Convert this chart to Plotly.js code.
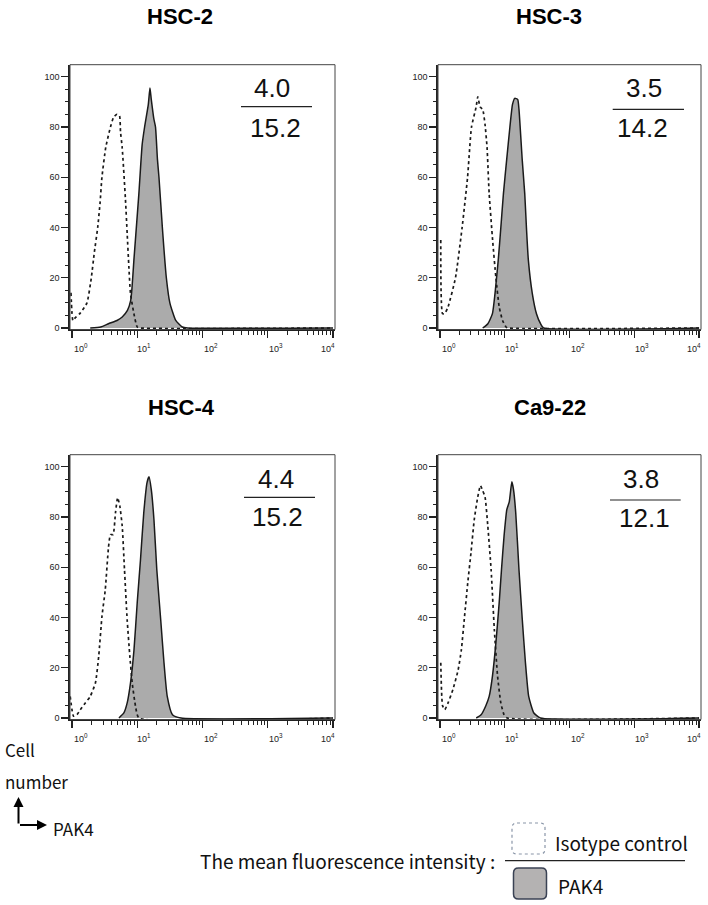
<!DOCTYPE html>
<html><head><meta charset="utf-8">
<script src="https://cdn.plot.ly/plotly-3.0.1.min.js"></script>
<style>html,body{margin:0;padding:0;background:#fff}#chart{width:708px;height:905px}</style>
</head><body><div id="chart"></div>
<script>
// ---------- data ----------
const cellLines = ['HSC-2', 'HSC-3', 'HSC-4', 'Ca9-22'];
const mfiIsotype = [4.0, 3.5, 4.4, 3.8];
const mfiPAK4 = [15.2, 14.2, 15.2, 12.1];
const xTickVals = [1, 10, 100, 1000, 10000];
const xTickText = ['10<sup>0</sup>', '10<sup>1</sup>', '10<sup>2</sup>', '10<sup>3</sup>', '10<sup>4</sup>'];
const xMinorVals = [2,3,4,5,6,7,8,9,20,30,40,50,60,70,80,90,200,300,400,500,600,700,800,900,2000,3000,4000,5000,6000,7000,8000,9000];
const yTickVals = [0, 20, 40, 60, 80, 100];

// HSC-2
const isoX_HSC2 = [0.966,1.035,1.12,1.349,1.698,1.98,2.2,2.48,2.7,2.88,3.3,3.89,4.365,4.898,5.346,5.546,5.875,6.607,7.015,7.447,7.889,8.892,10,11.22,10000];
const isoY_HSC2 = [14,3,4,6,10,20,30,40,50,60,72,80,84,85,84.5,78,72,51,37.6,24.3,13.7,5.7,0.4,0,0];
const pakX_HSC2 = [1.905,2.754,3.631,4.898,5.888,7.079,7.943,8.318,8.89,10.6,11.9,12.97,14.79,15.67,16.41,18.03,19.05,20.42,21.53,24.27,27.93,31.62,38.9,48.98,58.88,10000];
const pakY_HSC2 = [0,0.4,1.7,3,4.4,7,11,16,27,53.5,73,80,89,95.5,91,83,80,67,60,40,20,10,3,0.4,0,0];

// HSC-3
const isoX_HSC3 = [1.03,1.096,1.186,1.334,1.738,2.2,2.67,3.07,3.622,3.837,4.169,4.571,4.966,5.333,5.754,6.501,7.311,8.222,9.247,10.47,11.22,10000];
const isoY_HSC3 = [35,5.7,5.7,8.4,20,40,60,80,88,92,88,87,81,72,53.5,35,20,8.4,3,0.4,0,0];
const pakX_HSC3 = [4.571,5.495,6.457,7.079,7.943,8.71,9.55,10.72,12.02,13.18,14.29,15.85,16.6,18.62,20.37,21.63,23.17,26.67,30.9,35.73,39.81,10000];
const pakY_HSC3 = [0,1.7,5.7,13.7,27,40,53.5,67,80,89,91.4,91,87,67,53.5,40,27,13.7,5.7,1.7,0,0];

// HSC-4
const isoX_HSC4 = [0.94,1.06,1.194,1.343,1.603,1.905,2.291,2.57,2.884,3.236,3.631,3.89,4.266,4.645,5.012,5.408,5.888,6.383,7.015,7.709,8.375,9.419,10.62,10000];
const isoY_HSC4 = [8.6,0.7,1.3,3.3,6,8.6,14,24.6,40.5,51,68,73,73,81.7,87.7,84.4,76.4,59,39,24.6,14,4.7,0,0];
const pakX_HSC4 = [5.248,6.237,7.015,7.889,8.913,10,11.22,12.59,14.13,15.14,16.41,18.03,19.95,22.91,25.7,28.84,34.67,46.77,10000];
const pakY_HSC4 = [0,2,6,14,27,46,63,81.7,93.7,96,91,79,59,39,22,8.6,1.3,0,0];

// Ca9-22
const isoX_Ca922 = [1.03,1.096,1.186,1.334,1.585,1.905,2.138,2.399,2.692,3.02,3.388,3.837,4.217,4.571,4.966,5.458,6.166,6.918,7.762,8.71,9.772,10.96,10000];
const isoY_Ca922 = [22,5,3.3,6,11.3,19,27,40.5,54,66,79,88,92.5,90.5,88,77,59,35,16.6,6,1.3,0,0];
const pakX_Ca922 = [3.631,4.315,5.129,5.754,6.457,7.311,8.222,8.913,9.772,10.79,11.75,12.88,13.65,14.79,16.6,18.62,20.89,23.44,28.18,35.48,10000];
const pakY_Ca922 = [0,1.3,5,8.6,16.6,30,46,59,72.5,83,86,94,91,81.7,59,39.6,22,8.6,2,0,0];

// ---------- build ----------
const W = 708, H = 905;
const px = v => v / W;
const py = v => 1 - v / H;

const isoXs = [isoX_HSC2, isoX_HSC3, isoX_HSC4, isoX_Ca922];
const isoYs = [isoY_HSC2, isoY_HSC3, isoY_HSC4, isoY_Ca922];
const pakXs = [pakX_HSC2, pakX_HSC3, pakX_HSC4, pakX_Ca922];
const pakYs = [pakY_HSC2, pakY_HSC3, pakY_HSC4, pakY_Ca922];

// panel geometry (pixels)
const colX = [[70, 335], [438, 701]];
const rowY = [[64.7, 329.5], [454.7, 719.5]];
const xLabelY = [348, 738];
const xLabelShift = [9, 7, 8, 8, -5];
const titlePos = [[180, 17], [549, 17], [181, 407], [550, 407]];
const isoTextPos = [[272, 88], [644, 88], [276, 479], [641, 479]];
const pakTextPos = [[275, 128.3], [642.5, 128.3], [277, 517], [644, 517.5]];
const fracLine = [[241, 312, 106.7], [612.7, 684, 109.3], [244, 315, 497.3], [610, 680.7, 500]];

const baseFont = 'Liberation Sans, Arial, sans-serif';
const traces = [];
const layout = {
  width: W, height: H,
  margin: {l: 0, r: 0, t: 0, b: 0},
  paper_bgcolor: '#fff', plot_bgcolor: '#fff',
  showlegend: false,
  font: {family: baseFont, color: '#222'},
  annotations: [], shapes: []
};

for (let i = 0; i < 4; i++) {
  const s = i === 0 ? '' : String(i + 1);
  const col = i % 2, row = Math.floor(i / 2);
  traces.push({
    x: pakXs[i], y: pakYs[i], xaxis: 'x' + s, yaxis: 'y' + s,
    type: 'scatter', mode: 'lines', fill: 'tozeroy', fillcolor: '#ababab',
    line: {color: '#1a1a1a', width: 1.5, shape: 'spline', smoothing: 0.5},
    hoverinfo: 'skip'
  });
  traces.push({
    x: isoXs[i], y: isoYs[i], xaxis: 'x' + s, yaxis: 'y' + s,
    type: 'scatter', mode: 'lines',
    line: {color: '#1a1a1a', width: 1.7, dash: 'dot', shape: 'spline', smoothing: 0.5},
    hoverinfo: 'skip'
  });
  layout['xaxis' + s] = {
    domain: [px(colX[col][0]), px(colX[col][1])], anchor: 'y' + s,
    type: 'log', range: [-0.03, 4.03],
    tickmode: 'array', tickvals: xTickVals, showticklabels: false,
    ticks: 'outside', ticklen: 7, tickwidth: 1.3, tickcolor: '#222',
    minor: {tickmode: 'array', tickvals: xMinorVals, ticks: 'outside', ticklen: 4, tickwidth: 1, tickcolor: '#222'},
    showline: true, linecolor: '#222', linewidth: 1.6, mirror: false,
    showgrid: false, zeroline: false, fixedrange: true
  };
  layout['yaxis' + s] = {
    domain: [py(rowY[row][1]), py(rowY[row][0])], anchor: 'x' + s,
    range: [-0.6, 104.8],
    tickmode: 'array', tickvals: yTickVals,
    ticks: 'outside', ticklen: 7, tickwidth: 1.3, tickcolor: '#222',
    minor: {dtick: 5, tick0: 0, ticks: 'outside', ticklen: 3, tickwidth: 1, tickcolor: '#222'},
    showline: true, linecolor: '#222', linewidth: 1.6, mirror: false,
    showgrid: false, zeroline: false,
    tickfont: {size: 9, family: baseFont, color: '#222'},
    fixedrange: true
  };
  // x tick labels placed on the axis scale
  for (let k = 0; k < xTickVals.length; k++) {
    layout.annotations.push({xref: 'x' + s, yref: 'paper', x: Math.log10(xTickVals[k]), y: py(xLabelY[row]),
      xanchor: 'center', yanchor: 'middle', xshift: xLabelShift[k], showarrow: false,
      text: xTickText[k], font: {size: 9, family: baseFont, color: '#222'}});
  }
  // box
  layout.shapes.push({type: 'rect', xref: 'x' + s + ' domain', yref: 'y' + s + ' domain',
    x0: 0, x1: 1, y0: 0, y1: 1, line: {color: '#444', width: 1}, layer: 'above'});
  // title
  layout.annotations.push({xref: 'paper', yref: 'paper', x: px(titlePos[i][0]), y: py(titlePos[i][1]),
    xanchor: 'center', yanchor: 'middle', showarrow: false, text: '<b>' + cellLines[i] + '</b>',
    font: {size: 22, family: baseFont, color: '#000'}});
  // MFI fraction
  layout.annotations.push({xref: 'paper', yref: 'paper', x: px(isoTextPos[i][0]), y: py(isoTextPos[i][1]),
    xanchor: 'center', yanchor: 'middle', showarrow: false, text: mfiIsotype[i].toFixed(1),
    font: {size: 26, family: baseFont, color: '#111'}});
  layout.annotations.push({xref: 'paper', yref: 'paper', x: px(pakTextPos[i][0]), y: py(pakTextPos[i][1]),
    xanchor: 'center', yanchor: 'middle', showarrow: false, text: mfiPAK4[i].toFixed(1),
    font: {size: 26, family: baseFont, color: '#111'}});
  layout.shapes.push({type: 'line', xref: 'paper', yref: 'paper',
    x0: px(fracLine[i][0]), x1: px(fracLine[i][1]), y0: py(fracLine[i][2]), y1: py(fracLine[i][2]),
    line: {color: '#222', width: 1.2}});
}

// axis key (Cell number / PAK4)
const keyFont = {size: 17, family: 'Noto Sans CJK JP, DejaVu Sans, sans-serif', color: '#111'};
layout.annotations.push({xref: 'paper', yref: 'paper', x: px(3), y: py(749), xanchor: 'left', yanchor: 'middle',
  showarrow: false, text: 'Cell', font: keyFont});
layout.annotations.push({xref: 'paper', yref: 'paper', x: px(3), y: py(781), xanchor: 'left', yanchor: 'middle',
  showarrow: false, text: 'number', font: keyFont});
layout.annotations.push({xref: 'paper', yref: 'paper', x: px(51), y: py(828), xanchor: 'left', yanchor: 'middle',
  showarrow: false, text: 'PAK4', font: keyFont});
layout.annotations.push({xref: 'paper', yref: 'paper', x: px(18.5), y: py(797), ax: 0, ay: 28,
  text: '', showarrow: true, arrowhead: 2, arrowsize: 1, arrowwidth: 2, arrowcolor: '#000'});
layout.annotations.push({xref: 'paper', yref: 'paper', x: px(47), y: py(825), ax: -28.5, ay: 0,
  text: '', showarrow: true, arrowhead: 2, arrowsize: 1, arrowwidth: 2, arrowcolor: '#000'});

// MFI legend
function roundRect(x0, y0, x1, y1, r) {
  const X = v => px(v).toFixed(5), Y = v => py(v).toFixed(5);
  return 'M' + X(x0 + r) + ',' + Y(y0) + ' L' + X(x1 - r) + ',' + Y(y0) +
    ' Q' + X(x1) + ',' + Y(y0) + ' ' + X(x1) + ',' + Y(y0 + r) +
    ' L' + X(x1) + ',' + Y(y1 - r) + ' Q' + X(x1) + ',' + Y(y1) + ' ' + X(x1 - r) + ',' + Y(y1) +
    ' L' + X(x0 + r) + ',' + Y(y1) + ' Q' + X(x0) + ',' + Y(y1) + ' ' + X(x0) + ',' + Y(y1 - r) +
    ' L' + X(x0) + ',' + Y(y0 + r) + ' Q' + X(x0) + ',' + Y(y0) + ' ' + X(x0 + r) + ',' + Y(y0) + ' Z';
}
layout.shapes.push({type: 'path', xref: 'paper', yref: 'paper', path: roundRect(512, 823, 545, 854, 5),
  fillcolor: '#ffffff', line: {color: '#8a96a8', width: 1.2, dash: 'dot'}});
layout.shapes.push({type: 'path', xref: 'paper', yref: 'paper', path: roundRect(513.5, 868, 546.5, 899, 5),
  fillcolor: '#b4b2b2', line: {color: '#3a4254', width: 1.5}});
layout.shapes.push({type: 'line', xref: 'paper', yref: 'paper', x0: px(505), x1: px(685), y0: py(860.7), y1: py(860.7),
  line: {color: '#222', width: 1.2}});
const legFont = {size: 19, family: 'Noto Sans CJK JP, DejaVu Sans, sans-serif', color: '#111'};
layout.annotations.push({xref: 'paper', yref: 'paper', x: px(198), y: py(860), xanchor: 'left', yanchor: 'middle',
  showarrow: false, text: 'The mean fluorescence intensity :', font: legFont});
layout.annotations.push({xref: 'paper', yref: 'paper', x: px(553), y: py(842), xanchor: 'left', yanchor: 'middle',
  showarrow: false, text: 'Isotype control', font: legFont});
layout.annotations.push({xref: 'paper', yref: 'paper', x: px(556), y: py(885), xanchor: 'left', yanchor: 'middle',
  showarrow: false, text: 'PAK4', font: legFont});

Plotly.newPlot('chart', traces, layout, {staticPlot: true, displayModeBar: false});
</script>
</body></html>
